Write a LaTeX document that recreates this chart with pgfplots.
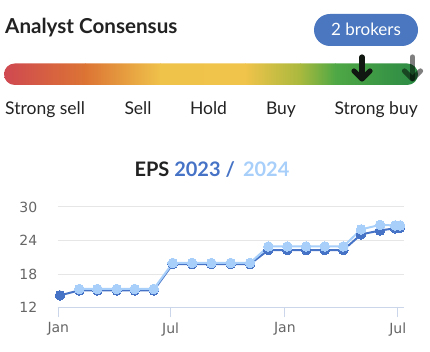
\documentclass[border=0pt]{standalone}
\usepackage{fontspec}
\setmainfont{Lato}
\newfontfamily\tickfont{DejaVu Sans}
\usepackage{pgfplots}
\pgfplotsset{compat=1.18}
\definecolor{dkblue}{HTML}{4673C6}
\definecolor{ltblue}{HTML}{A7CFFA}
\definecolor{pill}{HTML}{4A77BF}
\definecolor{txt}{HTML}{222222}
\definecolor{tickc}{HTML}{666666}
\definecolor{gridc}{HTML}{E6E6E6}
\definecolor{axl}{HTML}{CCD6EB}
\definecolor{g1}{HTML}{CF4851}
\definecolor{g2}{HTML}{DC7434}
\definecolor{g3}{HTML}{EFC24A}
\definecolor{g4}{HTML}{F0C34A}
\definecolor{g5}{HTML}{A9B93E}
\definecolor{g6}{HTML}{4FA845}
\definecolor{g7}{HTML}{2B8A45}
\definecolor{arr}{HTML}{111811}
\begin{document}
\begin{tikzpicture}
\useasboundingbox (0,0) rectangle (430pt,352pt);
% header
\node[anchor=base west, inner sep=0, font=\fontsize{20.6}{23}\selectfont\bfseries, text=txt] at (5pt,318pt) {Analyst Consensus};
\fill[pill, rounded corners=16pt] (314pt,306pt) rectangle (418pt,338pt);
\node[text=white, font=\fontsize{17}{19}\selectfont, inner sep=0, anchor=base] at (366pt,316pt) {2 brokers};
% gradient bar
\begin{scope}
\clip[rounded corners=10.75pt] (4pt,267pt) rectangle (418pt,288.5pt);
\shade[left color=g1, right color=g2] (3pt,266pt) rectangle (85.5pt,289pt);
\shade[left color=g2, right color=g3] (85pt,266pt) rectangle (160.5pt,289pt);
\shade[left color=g3, right color=g4] (160pt,266pt) rectangle (245.5pt,289pt);
\shade[left color=g4, right color=g5] (245pt,266pt) rectangle (300.5pt,289pt);
\shade[left color=g5, right color=g6] (300pt,266pt) rectangle (335.5pt,289pt);
\shade[left color=g6, right color=g7] (335pt,266pt) rectangle (419pt,289pt);
\end{scope}
% arrows
\draw[arr, line width=5.2pt, line cap=round, line join=round] (362pt,295pt) -- (362pt,273.5pt);
\draw[arr, line width=5.2pt, line cap=round, line join=round] (354pt,281pt) -- (362pt,273pt) -- (370pt,281pt);
\begin{scope}[opacity=0.5]
\draw[black, line width=5.2pt, line cap=round, line join=round] (412.5pt,295pt) -- (412.5pt,273.5pt);
\draw[black, line width=5.2pt, line cap=round, line join=round] (404.5pt,281pt) -- (412.5pt,273pt) -- (420.5pt,281pt);
\end{scope}
% labels
\begin{scope}[every node/.style={inner sep=0, font=\fontsize{17.5}{19}\selectfont, text=txt}]
\node[anchor=base west] at (5pt,237.5pt) {Strong sell};
\node[anchor=base] at (138pt,237.5pt) {Sell};
\node[anchor=base] at (208.5pt,237.5pt) {Hold};
\node[anchor=base] at (281pt,237.5pt) {Buy};
\node[anchor=base east] at (418pt,237.5pt) {Strong buy};
\end{scope}
% EPS title
\node[anchor=base, inner sep=0, font=\fontsize{20}{22}\selectfont\bfseries] at (212pt,175.3pt) {\textcolor{txt}{EPS} \textcolor{dkblue}{2023 /}\, \textcolor{ltblue}{2024}};
\begin{axis}[
  at={(57.7pt,44.3pt)}, anchor=south west,
  scale only axis, width=346.3pt, height=100.7pt,
  xmin=-1, xmax=557, ymin=12, ymax=30,
  ytick={12,18,24,30},
  xtick={0,181,365,547}, xticklabels={Jan,Jul,Jan,Jul},
  axis line style={draw=none},
  ymajorgrids, grid style={gridc, line width=1pt},
  ytick style={draw=none},
  xtick style={draw=axl, line width=1pt},
  tick align=outside, xtick pos=bottom, ytick pos=left,
  major tick length=9.5pt,
  /pgf/number format/assume math mode=true,
  tick label style={font=\tickfont\fontsize{14}{16}\selectfont, text=tickc},
  yticklabel style={xshift=-7.5pt},
  xticklabel style={yshift=-2pt},
  clip=false,
]
\draw[axl, line width=1pt] (rel axis cs:0,0) -- (rel axis cs:1,0);
\addplot[dkblue, line width=2pt, mark=*, mark size=4.8pt, mark options={draw=dkblue, fill=dkblue, line width=0pt}] coordinates {
(2.7,14.2) (33.8,15.1) (62.9,15.1) (94.1,15.1) (123.1,15.1) (153.7,15.1)
(184.4,19.8) (215.5,19.8) (246.6,19.8) (277.8,19.8) (308.9,19.8)
(338.4,22.3) (369.1,22.3) (399.2,22.3) (429.3,22.3) (459.3,22.3)
(487.8,25.1) (518.5,25.8) (542.6,26.2) (550.7,26.3)
};
\addplot[ltblue, line width=2pt, mark=*, mark size=4.8pt, mark options={draw=ltblue, fill=ltblue, line width=0pt}] coordinates {
(33.8,15.35) (62.9,15.35) (94.1,15.35) (123.1,15.35) (153.7,15.35)
(184.4,20.0) (215.5,20.0) (246.6,20.0) (277.8,20.0) (308.9,20.0)
(338.4,22.95) (369.1,22.95) (399.2,22.95) (429.3,22.95) (459.3,22.95)
(487.8,26.0) (518.5,26.8) (542.6,26.7) (550.7,26.7)
};
\end{axis}
\end{tikzpicture}
\end{document}
